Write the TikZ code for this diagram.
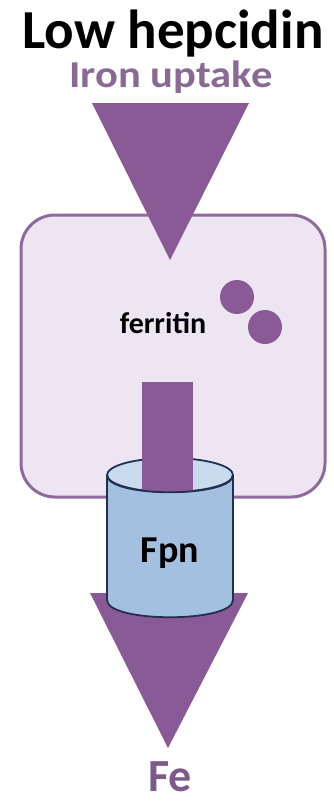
\documentclass[tikz,border=0pt]{standalone}
\usepackage{fontspec}
\setmainfont{Carlito}
\usetikzlibrary{positioning}

\definecolor{flowpurple}{RGB}{138,90,151}
\definecolor{cellfill}{RGB}{238,229,242}
\definecolor{celledge}{RGB}{143,106,156}
\definecolor{uptaketext}{RGB}{138,106,148}
\definecolor{fetext}{RGB}{125,90,138}
\definecolor{fpnbody}{RGB}{164,192,224}
\definecolor{fpntop}{RGB}{201,218,238}
\definecolor{fpnedge}{RGB}{34,48,79}

\begin{document}
\begin{tikzpicture}[
    x = 1pt, y = -1pt, %
    label/.style = {anchor = base, inner sep = 0pt, text depth = 0pt, font = \bfseries}, %
    flow/.style = {fill = flowpurple}, %
    cell/.style = {fill = cellfill, draw = celledge, line width = 3pt, rounded corners = 34pt}, %
    fpn/.style = {draw = fpnedge, line width = 1.8pt} %
    ]

    \useasboundingbox (0,0) rectangle (334,801);

    % texts on top
    \node[label, font = \bfseries\fontsize{55}{60}\selectfont] (title) at (173,48) {Low hepcidin};
    \node[label, text = uptaketext, font = \bfseries\fontsize{38}{42}\selectfont] (uptake) at (171,87) {\scalebox{1.12}[1]{Iron uptake}};

    % the cell
    \draw[cell] (21,215) rectangle (325,497);

    % iron coming in
    \coordinate (in1) at (92,103);
    \coordinate (in2) at (249,103);
    \coordinate (in3) at (170,260);
    \fill[flow] (in1) -- (in2) -- (in3) -- cycle;

    \node[label, font = \bfseries\fontsize{30}{34}\selectfont] (ferritin) at (163,333) {ferritin};
    \fill[flow] (237,297) circle (17);
    \fill[flow] (265,327) circle (17);

    % iron going out
    \coordinate (out1) at (90,593);
    \coordinate (out2) at (248,593);
    \coordinate (out3) at (168,748);
    \fill[flow] (out1) -- (out2) -- (out3) -- cycle;

    % ferroportin
    \coordinate (fpnl) at (107,475);
    \coordinate (fpnr) at (233,475);
    \fill[fpnbody] (fpnl) -- (107,600)
        .. controls (107,623) and (233,623) .. (233,600) -- (fpnr) -- cycle;
    \draw[fpn] (fpnl) -- (107,600)
        .. controls (107,623) and (233,623) .. (233,600) -- (fpnr);
    \draw[fpn, fill = fpntop] (170,475) ellipse [x radius = 63, y radius = 17];

    \fill[flow] (142,382) rectangle (193,476);
    \begin{scope}
        \clip (170,475) ellipse [x radius = 63, y radius = 17];
        \fill[flow] (142,470) rectangle (193,500);
    \end{scope}
    \draw[fpn] (fpnl) .. controls (107,498) and (233,498) .. (fpnr);

    \node[label, font = \bfseries\fontsize{38}{42}\selectfont] (fpnlabel) at (170,562) {Fpn};

    \node[label, text = fetext, font = \bfseries\fontsize{46}{50}\selectfont] (fe) at (170,791) {Fe};

\end{tikzpicture}
\end{document}
